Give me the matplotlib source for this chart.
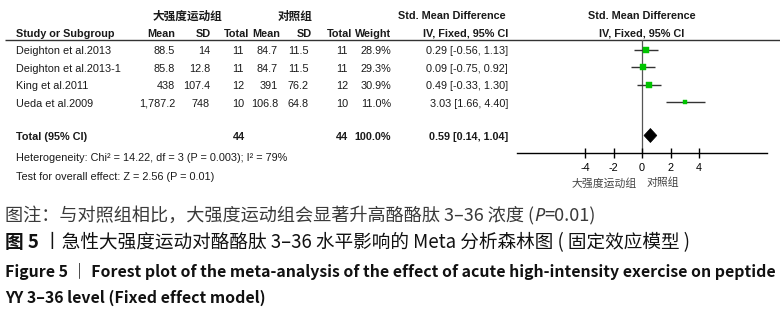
import matplotlib
matplotlib.use("Agg")
import matplotlib.pyplot as plt
from matplotlib.patches import Polygon

# ---------------- data ----------------
studies = ["Deighton et al.2013", "Deighton et al.2013-1", "King et al.2011", "Ueda et al.2009"]
exp_mean = ["88.5", "85.8", "438", "1,787.2"]
exp_sd = ["14", "12.8", "107.4", "748"]
exp_n = [11, 11, 12, 10]
ctl_mean = ["84.7", "84.7", "391", "106.8"]
ctl_sd = ["11.5", "11.5", "76.2", "64.8"]
ctl_n = [11, 11, 12, 10]
weights = [28.9, 29.3, 30.9, 11.0]
smd = [0.29, 0.09, 0.49, 3.03]
ci_lo = [-0.56, -0.75, -0.33, 1.66]
ci_hi = [1.13, 0.92, 1.30, 4.40]
total_smd, total_lo, total_hi = 0.59, 0.14, 1.04
total_exp_n, total_ctl_n, total_weight = 44, 44, 100.0
heterogeneity = "Heterogeneity: Chi² = 14.22, df = 3 (P = 0.003); I² = 79%"
overall_effect = "Test for overall effect: Z = 2.56 (P = 0.01)"
xticks = [-4, -2, 0, 2, 4]
group_exp = "大强度运动组"
group_ctl = "对照组"
caption_note = ["图注：与对照组相比，大强度运动组会显著升高酪酪肽 3–36 浓度 (", "P", "=0.01)"]
caption_cn = ["图 5", " 丨急性大强度运动对酪酪肽 3–36 水平影响的 Meta 分析森林图 ( 固定效应模型 )"]
caption_en1 = "Figure 5 \uff5c Forest plot of the meta-analysis of the effect of acute high-intensity exercise on peptide"
caption_en2 = "YY 3–36 level (Fixed effect model)"

# ---------------- fonts ----------------
LAT = ["Liberation Sans", "DejaVu Sans"]
CJK = ["Noto Sans CJK SC", "DejaVu Sans"]

W, H = 780, 314
fig = plt.figure(figsize=(W / 100, H / 100), dpi=100)
fig.patch.set_facecolor("white")
bg = fig.add_axes([0, 0, 1, 1])
bg.set_xlim(0, W)
bg.set_ylim(H, 0)
bg.axis("off")

FS = 7.85
TXT = "#1a1a1a"

# header
bg.text(187, 16, group_exp, ha="center", va="center", fontsize=8.4, family=CJK, weight="bold", color=TXT)
bg.text(295, 16, group_ctl, ha="center", va="center", fontsize=8.4, family=CJK, weight="bold", color=TXT)
bg.text(506, 16, "Std. Mean Difference", ha="right", va="center", fontsize=FS, family=LAT, weight="bold", color=TXT)
bg.text(642, 16, "Std. Mean Difference", ha="center", va="center", fontsize=FS, family=LAT, weight="bold", color=TXT)

hy = 34
bg.text(16, hy, "Study or Subgroup", ha="left", va="center", fontsize=FS, family=LAT, weight="bold", color=TXT)
for x, s in [(175, "Mean"), (211, "SD"), (249, "Total"), (280, "Mean"), (312, "SD"),
             (352, "Total"), (391, "Weight"), (508, "IV, Fixed, 95% CI")]:
    bg.text(x, hy, s, ha="right", va="center", fontsize=FS, family=LAT, weight="bold", color=TXT)
bg.text(642, hy, "IV, Fixed, 95% CI", ha="center", va="center", fontsize=FS, family=LAT, weight="bold", color=TXT)
bg.plot([5, W], [39.5, 39.5], color="#333333", lw=1.0, solid_capstyle="butt")

# study rows
row0, dy = 50, 17.4
for i in range(len(studies)):
    y = row0 + dy * i + 1.5
    bg.text(16, y, studies[i], ha="left", va="center", fontsize=FS, family=LAT, color=TXT)
    cells = [(175, exp_mean[i]), (210, exp_sd[i]), (244, str(exp_n[i])),
             (278, ctl_mean[i]), (309, ctl_sd[i]), (348, str(ctl_n[i])),
             (391, f"{weights[i]:.1f}%"),
             (508, f"{smd[i]:.2f} [{ci_lo[i]:.2f}, {ci_hi[i]:.2f}]")]
    for x, s in cells:
        bg.text(x, y, s, ha="right", va="center", fontsize=FS, family=LAT, color=TXT)

ty = 136.5
bg.text(16, ty, "Total (95% CI)", ha="left", va="center", fontsize=FS, family=LAT, weight="bold", color=TXT)
for x, s in [(245, str(total_exp_n)), (348, str(total_ctl_n)), (391, f"{total_weight:.1f}%"),
             (508, f"{total_smd:.2f} [{total_lo:.2f}, {total_hi:.2f}]")]:
    bg.text(x, ty, s, ha="right", va="center", fontsize=FS, family=LAT, weight="bold", color=TXT)
bg.text(16, 158, heterogeneity, ha="left", va="center", fontsize=FS, family=LAT, color=TXT)
bg.text(16, 177, overall_effect, ha="left", va="center", fontsize=FS, family=LAT, color=TXT)

# ---------------- forest plot ----------------
ax_l, ax_r, ax_t, ax_b = 517, 767, 39.5, 153
ax = fig.add_axes([ax_l / W, 1 - ax_b / H, (ax_r - ax_l) / W, (ax_b - ax_t) / H])
ax.patch.set_alpha(0)
half = (ax_r - ax_l) / 2 / 14.25
ax.set_xlim(-half, half)
ax.set_ylim((ax_b - row0) / dy, (ax_t - row0) / dy)
for s in ["top", "left", "right"]:
    ax.spines[s].set_visible(False)
ax.spines["bottom"].set_color("black")
ax.spines["bottom"].set_linewidth(1.0)
ax.set_yticks([])
ax.set_xticks(xticks)
ax.set_xticklabels([str(t) for t in xticks], family=LAT, fontsize=FS, color=TXT)
ax.tick_params(axis="x", direction="inout", length=7, width=1.0, pad=3.5, colors="black")
ax.axvline(0, color="#555555", lw=0.9, zorder=1)

for i in range(len(studies)):
    ax.plot([ci_lo[i], ci_hi[i]], [i, i], color="#333333", lw=1.0, zorder=2, solid_capstyle="butt")
    ax.plot(smd[i], i, marker="s", ms=0.8 * weights[i] ** 0.5, color="#00c400",
            mec="#00c400", mew=0.3, zorder=3, linestyle="none")

yt = (ty - 1 - row0) / dy
hh = 7 / dy
ax.add_patch(Polygon([(total_lo, yt), (total_smd, yt - hh), (total_hi, yt), (total_smd, yt + hh)],
                     closed=True, facecolor="black", edgecolor="black", lw=0.5, zorder=4))

bg.text(637, 183, group_exp, ha="right", va="center", fontsize=7.8, family=CJK, color="#444444")
bg.text(647, 183, group_ctl, ha="left", va="center", fontsize=7.8, family=CJK, color="#444444")

# ---------------- captions ----------------
renderer = fig.canvas.get_renderer()


def pieces(x0, y, parts, fs, target_right=None):
    """Draw consecutive text pieces; optionally scale so the line ends at target_right."""
    made = []
    x = x0
    for s, kw in parts:
        t = bg.text(x, y, s, ha="left", va="center", fontsize=fs, **kw)
        made.append(t)
        x = t.get_window_extent(renderer).x1
    if target_right is not None:
        scale = (target_right - x0) / (x - x0)
        x = x0
        for t in made:
            t.set_fontsize(fs * scale)
            t.set_x(x)
            x = t.get_window_extent(renderer).x1
    return made


pieces(5, 216, [(caption_note[0], dict(family=CJK, color="#3a3a3a")),
                (caption_note[1], dict(family=["Noto Sans", "DejaVu Sans"], style="italic", color="#3a3a3a")),
                (caption_note[2], dict(family=CJK, color="#3a3a3a"))], 12, target_right=596)
pieces(5, 243, [(caption_cn[0], dict(family=CJK, weight="bold", color="#111111")),
                (caption_cn[1], dict(family=CJK, color="#111111"))], 12, target_right=689)
t1 = pieces(5, 271, [(caption_en1, dict(family=CJK, weight="bold", color="#111111"))], 12,
            target_right=776)[0]
bg.text(5, 298, caption_en2, ha="left", va="center", family=CJK, weight="bold",
        fontsize=t1.get_fontsize(), color="#111111")

fig.savefig("out.png", dpi=100, facecolor="white")
